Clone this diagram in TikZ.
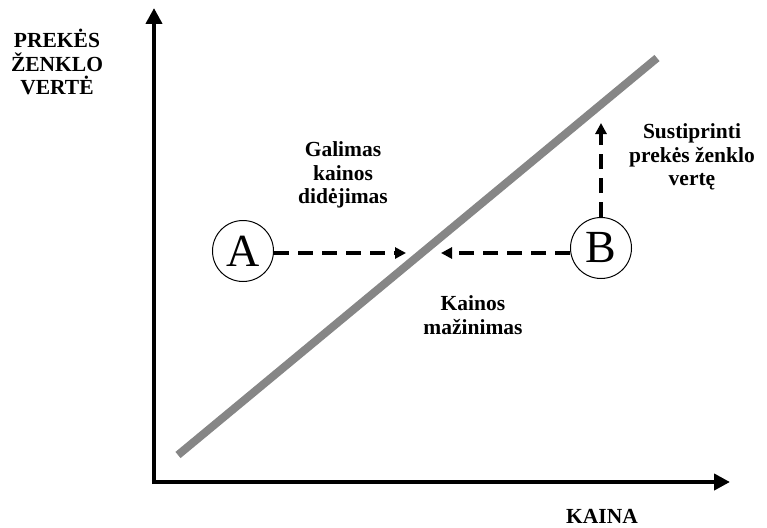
\documentclass[tikz,border=0pt]{standalone}
\usepackage{fontspec}
\setmainfont{Liberation Serif}
\usetikzlibrary{arrows.meta}
\begin{document}
\begin{tikzpicture}[x=1pt,y=-1pt,
  lbl/.style={font=\bfseries\fontsize{21.5}{23.5}\selectfont, align=center, inner sep=0pt},
  axis/.style={line width=4.5pt, -{Triangle[length=16pt,width=16pt]}},
  dasharrow/.style={line width=3.5pt, dash pattern=on 15pt off 9pt, -{Triangle[length=11pt,width=11pt]}},
  letter/.style={circle, draw, line width=1pt, minimum size=61pt, inner sep=0pt, font=\fontsize{46}{46}\selectfont}]
\useasboundingbox (0,0) rectangle (767,527);
\coordinate (o) at (154,482);
\coordinate (ytop) at (154,8);
\coordinate (xend) at (730,482);
\draw[axis] (154,484) -- (ytop);
\draw[axis] (151.8,482) -- (xend);
\draw[line width=8pt, color=gray!95] (178,455) -- (657,58);
\node[letter] (A) at (243,251) {A};
\node[letter] (B) at (601,248) {B};
\coordinate (at) at (406,253);
\coordinate (bt) at (441,253);
\coordinate (bu) at (601,123);
\draw[dasharrow] (A.east |- 0,253) -- (at);
\draw[dasharrow] (B.west |- 0,253) -- (bt);
\draw[dasharrow] (B.north) -- (bu);
\node[lbl] (yl) at (57,62) {PREKĖS\\ŽENKLO\\VERTĖ};
\node[lbl, anchor=base, text depth=0pt] (xl) at (602,523.5) {KAINA};
\node[lbl] (g) at (343,175) {Galimas\\kainos\\didėjimas};
\node[lbl] (k) at (473,315) {Kainos\\mažinimas};
\node[lbl] (s) at (692,157) {Sustiprinti\\prekės ženklo\\vertę};
\end{tikzpicture}
\end{document}
